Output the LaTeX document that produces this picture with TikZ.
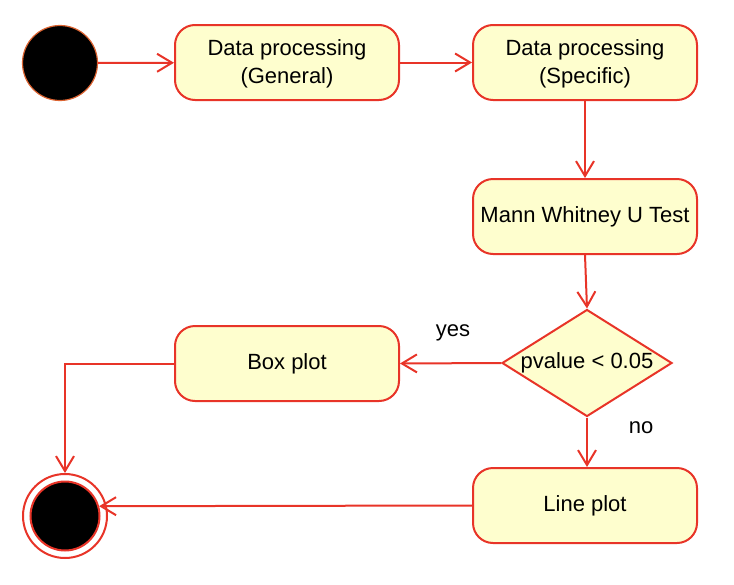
\documentclass[tikz,border=0pt]{standalone}
\usepackage{fontspec}
\setmainfont{Liberation Sans}
\usetikzlibrary{arrows.meta,shapes.geometric}
\definecolor{umlred}{RGB}{232,52,40}
\definecolor{umlfill}{RGB}{254,254,206}
\definecolor{startedge}{RGB}{220,100,50}
\begin{document}
\begin{tikzpicture}[x=1pt,y=-1pt,
  every node/.style={font=\fontsize{22}{28}\selectfont},
  actbox/.style={draw=umlred,fill=umlfill,line width=2pt,rounded corners=20pt,
    minimum width=224pt,minimum height=75pt,align=center,inner sep=0pt},
  decbox/.style={draw=umlred,fill=umlfill,line width=2pt,diamond,aspect=1.6,
    minimum width=170pt,minimum height=107pt,inner sep=0pt},
  flow/.style={draw=umlred,line width=2pt,-{Straight Barb[length=15pt,width=18pt]}},
  lbl/.style={font=\fontsize{22}{28}\selectfont}]
\useasboundingbox (0,0) rectangle (734,584);
\node[circle,fill=black,draw=startedge,line width=1.2pt,minimum size=75pt,inner sep=0pt] (start) at (60,63) {};
\node[actbox,text depth=2pt] (b1) at (287,62.5) {Data processing\\(General)};
\node[actbox,text depth=2pt] (b2) at (585,62.5) {Data processing\\(Specific)};
\node[actbox] (b3) at (585,216.5) {Mann Whitney U Test};
\node[decbox] (d) at (587,363) {pvalue < 0.05};
\node[actbox] (bp) at (287,363.5) {Box plot};
\node[actbox] (lp) at (585,505.5) {Line plot};
\node[circle,fill=white,draw=umlred,line width=2pt,minimum size=84pt,inner sep=0pt] (endo) at (65,516) {};
\node[circle,fill=black,draw=umlred,line width=2pt,minimum size=69pt,inner sep=0pt] (endi) at (65,516) {};
\node[lbl] (yes) at (453,333) {yes};
\node[lbl] (no) at (641,428) {no};
\draw[flow] (start) -- (b1);
\draw[flow] (b1) -- (b2);
\draw[flow] (b2) -- (b3);
\draw[flow] (b3.south) -- (d.north);
\draw[flow] (d.west) -- (bp.east);
\draw[flow] (d.south) -- (lp.north -| d.south);
\draw[flow] (bp.west) -| (endo.north);
\draw[flow] (lp.west) -- (endi.16);
\end{tikzpicture}
\end{document}
